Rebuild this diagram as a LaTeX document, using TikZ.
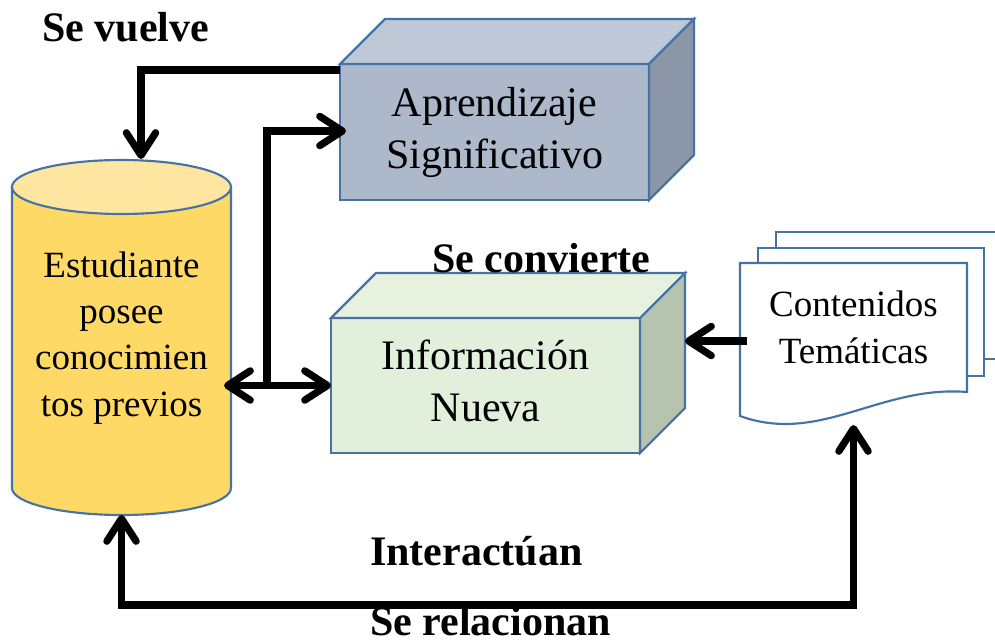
\documentclass[tikz,border=0pt]{standalone}
\usepackage{fontspec}
\setmainfont{Liberation Serif}
\usetikzlibrary{arrows.meta,calc}

\definecolor{edge}{HTML}{4672A4}
\definecolor{cylbody}{HTML}{FFD966}
\definecolor{cyltop}{HTML}{FFE6A0}
\definecolor{aprfront}{HTML}{ADB9CA}
\definecolor{aprtop}{HTML}{BEC8D6}
\definecolor{aprside}{HTML}{8B97A8}
\definecolor{infofront}{HTML}{E2EFDA}
\definecolor{infotop}{HTML}{E7F1E0}
\definecolor{infoside}{HTML}{B6C4AF}

\tikzset{
  face/.style={draw=edge, line width=1.6pt, line join=miter},
  cubefront/.style={face, rectangle, inner sep=0pt, outer sep=0pt, align=center,
    minimum width=231.75pt, font=\fontsize{31.5}{39}\selectfont},
  textblock/.style={rectangle, inner sep=0pt, outer sep=0pt, align=center},
  conn/.style={line width=5.4pt, black},
  lbl/.style={font=\bfseries\fontsize{31.5}{38}\selectfont, inner sep=0pt, anchor=base west},
  >={Straight Barb[length=17pt,width=22pt,round]}
}

\begin{document}
\begin{tikzpicture}[x=0.75pt,y=-0.75pt]
\useasboundingbox (0,0) rectangle (995,641);
\clip (0,0) rectangle (995,641);

% cylinder: student with prior knowledge
\path[face, fill=cylbody] (12,187) -- (12,488)
  arc[start angle=180, end angle=0, x radius=109.5, y radius=27] -- (231,187) -- cycle;
\path[face, fill=cyltop] (121.5,187) ellipse[x radius=109.5, y radius=27];
\node[textblock, minimum width=164.25pt, minimum height=266.25pt,
  font=\fontsize{27.75}{34.7}\selectfont] (stu) at (121.5,337.5)
  {\strut Estudiante\\\strut posee\\\strut conocimien\\\strut tos previos};

% cube: meaningful learning
\node[cubefront, fill=aprfront, minimum height=102pt] (apr) at (494.5,132)
  {\strut Aprendizaje\\\strut Significativo};
\path[face, fill=aprtop] (apr.north west) -- ++(45,-45) -- ++(309,0) -- (apr.north east) -- cycle;
\path[face, fill=aprside] (apr.north east) -- ++(45,-45) -- ++(0,136) -- (apr.south east) -- cycle;

% cube: new information
\node[cubefront, fill=infofront, minimum height=101.25pt] (info) at (485.5,385.5)
  {\strut Información\\\strut Nueva};
\path[face, fill=infotop] (info.north west) -- ++(45,-45) -- ++(309,0) -- (info.north east) -- cycle;
\path[face, fill=infoside] (info.north east) -- ++(45,-45) -- ++(0,135) -- (info.south east) -- cycle;

% stacked documents: thematic contents
\path[face, fill=white] (776,232) rectangle (1010,359);
\path[face, fill=white] (758,248) rectangle (984,376);
\path[face, fill=white] (740,263) -- (967,263) -- (967,392)
  .. controls (880,385) and (820,445) .. (740,416) -- cycle;
\node[textblock, minimum width=170.25pt, minimum height=102pt,
  font=\fontsize{27.75}{35.25}\selectfont] (doc) at (853.5,331)
  {\strut Contenidos\\\strut Temáticas};

% connectors
\coordinate (stuin) at ($(stu.east |- info.west)+(-7,0)$);
\coordinate (j) at ($(stu.east |- info.west)!0.36!(info.west)$);
\coordinate (aprin) at ($(apr.west)+(6,-1)$);
\coordinate (infoback) at ($(info.east)+(45,0)$);
\coordinate (docb) at ($(doc.south)+(0,26)$);

\draw[conn, ->] ($(apr.north west)+(0,6)$) -| ($(stu.north)+(19.5,-1)$);
\draw[conn, <->] (stuin) -- (info.west);
\draw[conn, ->] (j) |- (aprin);
\draw[conn, ->] ($(doc.west)+(7,10)$) -- (infoback |- 0,341);
\draw[conn, <->] (docb) -- (docb |- 0,605) -| (stu.south);

% labels
\node[lbl] (vuelve) at (42,42) {Se vuelve};
\node[lbl] (convierte) at (432,273) {Se convierte};
\node[lbl] (interact) at (370,565) {Interactúan};
\node[lbl] (relac) at (370,635) {Se relacionan};
\end{tikzpicture}
\end{document}
